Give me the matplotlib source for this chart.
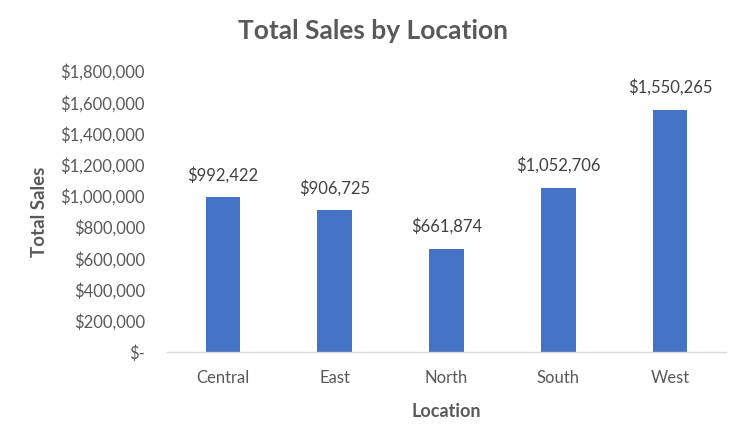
import numpy as np
import matplotlib.pyplot as plt
from matplotlib.ticker import FuncFormatter

# data
locations = ["Central", "East", "North", "South", "West"]
total_sales = [992422, 906725, 661874, 1052706, 1550265]
y_ticks = np.arange(0, 1800001, 200000)

bar_color = "#4472C4"
text_color = "#595959"

plt.rcParams['font.family'] = ['Lato', 'DejaVu Sans']

fig = plt.figure(figsize=(7.36, 4.38), dpi=100)
ax = fig.add_axes([0.2269, 0.1963, 0.7595, 0.6416])

x = np.arange(len(locations))
bars = ax.bar(x, total_sales, width=0.31, color=bar_color)

ax.set_xlim(-0.5, len(locations) - 0.5)
ax.set_ylim(0, 1800000)
ax.set_yticks(y_ticks)
ax.set_xticks(x)
ax.set_xticklabels(locations)


def money(v, pos=None):
    if v == 0:
        return "$-"
    return f"${v:,.0f}"


ax.yaxis.set_major_formatter(FuncFormatter(money))

for b, v in zip(bars, total_sales):
    ax.annotate(money(v), (b.get_x() + b.get_width() / 2, v),
                xytext=(0, 10), textcoords="offset points",
                ha="center", va="bottom", fontsize=12, color="#404040")

for s in ["top", "right", "left"]:
    ax.spines[s].set_visible(False)
ax.spines["bottom"].set_color("#D9D9D9")
ax.spines["bottom"].set_linewidth(1)

ax.tick_params(axis="both", length=0, labelsize=12, colors=text_color)
ax.tick_params(axis="y", pad=16)
ax.tick_params(axis="x", pad=13)

ax.set_title("Total Sales by Location", fontsize=19, fontweight="bold",
             color=text_color, pad=23, x=(373 - 167) / (726 - 167))
ax.set_xlabel("Location", fontsize=13, fontweight="bold", color=text_color, labelpad=12)
ax.set_ylabel("Total Sales", fontsize=13.5, fontweight="bold", color=text_color, labelpad=9)

fig.savefig("out.png", dpi=100, facecolor="white")
